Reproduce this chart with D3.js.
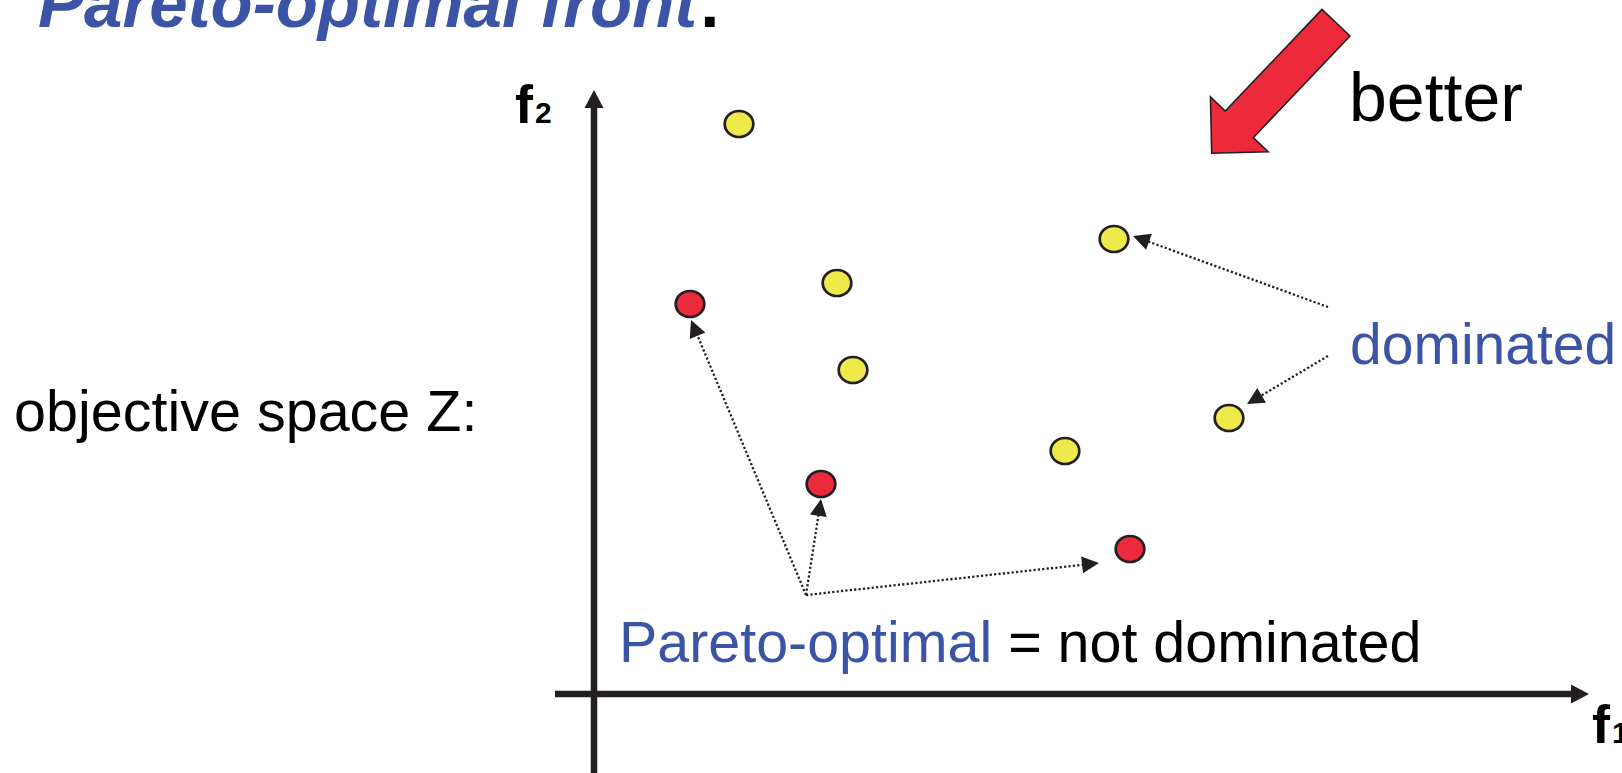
<!DOCTYPE html>
<html>
<head>
<meta charset="utf-8">
<script src="https://cdn.jsdelivr.net/npm/d3@7"></script>
<style>
  html, body { margin: 0; padding: 0; background: #fff; overflow: hidden; }
  svg { display: block; }
  text { font-family: "Liberation Sans", Arial, Helvetica, sans-serif; }
</style>
</head>
<body>
<svg id="chart" width="1622" height="773"></svg>
<script>
// Objective values (f1, f2) of the candidate solutions
const dominatedF1 = [1.45, 2.43, 2.59, 5.20, 4.71, 6.35];
const dominatedF2 = [5.70, 4.11, 3.24, 4.55, 2.43, 2.76];
const paretoF1    = [0.96, 2.27, 5.36];
const paretoF2    = [3.90, 2.10, 1.45];

// Dotted pointer arrows: [from f1, from f2, to f1, to f2]
const paretoPointers    = [[2.12, 0.99, 0.97, 3.74], [2.12, 0.99, 2.27, 1.95], [2.12, 0.99, 5.05, 1.31]];
const dominatedPointers = [[7.34, 3.87, 5.39, 4.58], [7.34, 3.38, 6.53, 2.90]];

// "better" direction arrow: tail and tip in objective space
const betterArrow = [[7.42, 6.713], [6.177, 5.407]];

// Axis extents in objective units
const f1Extent = [-0.39, 9.95];
const f2Extent = [-0.79, 6.04];

const svg = d3.select("#chart");
const INK = "#231f20";
const BLUE = "#3b54a5";

const x = d3.scaleLinear().domain([0, 10]).range([594, 1594]);
const y = d3.scaleLinear().domain([0, 6]).range([694, 94]);

// Title line, cropped at the top edge
const title = svg.append("text")
  .attr("x", 38).attr("y", 27)
  .attr("font-size", 69).attr("font-weight", "bold").attr("font-style", "italic");
title.append("tspan").attr("fill", BLUE).text("Pareto-optimal front");
title.append("tspan").attr("fill", "#000").attr("font-style", "normal").attr("dx", 3).text(".");

svg.append("text").attr("x", 14).attr("y", 431).attr("font-size", 57.5)
  .attr("fill", "#000").text("objective space Z:");

// Axes with arrowheads
function arrowHead(g, tip, dir, len, half, fill) {
  const [dx, dy] = dir; const L = Math.hypot(dx, dy);
  const ux = dx / L, uy = dy / L, px = -uy, py = ux;
  const bx = tip[0] - ux * len, by = tip[1] - uy * len;
  g.append("path")
    .attr("d", d3.line()([[tip[0], tip[1]], [bx + px * half, by + py * half], [bx - px * half, by - py * half]]) + "Z")
    .attr("fill", fill);
}

const axes = svg.append("g");
axes.append("line")
  .attr("x1", x(f1Extent[0])).attr("x2", x(f1Extent[1]) - 12)
  .attr("y1", y(0)).attr("y2", y(0))
  .attr("stroke", INK).attr("stroke-width", 6.5);
arrowHead(axes, [x(f1Extent[1]), y(0)], [1, 0], 18, 9.5, INK);
axes.append("line")
  .attr("x1", x(0)).attr("x2", x(0))
  .attr("y1", y(f2Extent[0])).attr("y2", y(f2Extent[1]) + 12)
  .attr("stroke", INK).attr("stroke-width", 6.5);
arrowHead(axes, [x(0), y(f2Extent[1])], [0, -1], 18, 9.5, INK);

// Axis labels f1 / f2
const f2Label = svg.append("text").attr("x", 515).attr("y", 123).attr("font-weight", "bold").attr("fill", "#000");
f2Label.append("tspan").attr("font-size", 54).text("f");
f2Label.append("tspan").attr("font-size", 30).attr("dx", 2).text("2");
const f1Label = svg.append("text").attr("x", 1592).attr("y", 743).attr("font-weight", "bold").attr("fill", "#000");
f1Label.append("tspan").attr("font-size", 54).text("f");
f1Label.append("tspan").attr("font-size", 30).attr("dx", 2).text("1");

// Dotted pointers
function pointer(g, d) {
  const x1 = x(d[0]), y1 = y(d[1]), x2 = x(d[2]), y2 = y(d[3]);
  const L = Math.hypot(x2 - x1, y2 - y1), headLen = 17;
  g.append("line")
    .attr("x1", x1).attr("y1", y1)
    .attr("x2", x2 - (x2 - x1) / L * (headLen - 2)).attr("y2", y2 - (y2 - y1) / L * (headLen - 2))
    .attr("stroke", INK).attr("stroke-width", 2.3).attr("stroke-dasharray", "2.2,2.2");
  arrowHead(g, [x2, y2], [x2 - x1, y2 - y1], headLen, 8.5, INK);
}
const ptrs = svg.append("g");
paretoPointers.forEach(d => pointer(ptrs, d));
dominatedPointers.forEach(d => pointer(ptrs, d));

// Solutions
const pts = svg.append("g");
pts.selectAll("ellipse.dom")
  .data(dominatedF1.map((v, i) => [v, dominatedF2[i]]))
  .join("ellipse").attr("class", "dom")
  .attr("cx", d => x(d[0])).attr("cy", d => y(d[1]))
  .attr("rx", 14.3).attr("ry", 13)
  .attr("fill", "#eeea4a").attr("stroke", INK).attr("stroke-width", 2.7);
pts.selectAll("ellipse.par")
  .data(paretoF1.map((v, i) => [v, paretoF2[i]]))
  .join("ellipse").attr("class", "par")
  .attr("cx", d => x(d[0])).attr("cy", d => y(d[1]))
  .attr("rx", 14.3).attr("ry", 13)
  .attr("fill", "#ec2a3c").attr("stroke", INK).attr("stroke-width", 2.7);

// Big "better" arrow
(function () {
  const [t0, t1] = betterArrow;
  const ax = x(t0[0]), ay = y(t0[1]), bx = x(t1[0]), by = y(t1[1]);
  const L = Math.hypot(bx - ax, by - ay);
  const ux = (bx - ax) / L, uy = (by - ay) / L, px = -uy, py = ux;
  const shaftHalf = 19.3, headHalf = 39.8, headLen = 40;
  const hx = bx - ux * headLen, hy = by - uy * headLen;
  const poly = [
    [ax + px * shaftHalf, ay + py * shaftHalf],
    [hx + px * shaftHalf, hy + py * shaftHalf],
    [hx + px * headHalf, hy + py * headHalf],
    [bx, by],
    [hx - px * headHalf, hy - py * headHalf],
    [hx - px * shaftHalf, hy - py * shaftHalf],
    [ax - px * shaftHalf, ay - py * shaftHalf]
  ];
  svg.append("path").attr("d", d3.line()(poly) + "Z")
    .attr("fill", "#ec2a3c").attr("stroke", INK).attr("stroke-width", 1.6).attr("stroke-linejoin", "miter");
})();

svg.append("text").attr("x", 1349).attr("y", 121).attr("font-size", 68).attr("fill", "#000").text("better");
svg.append("text").attr("x", 1350).attr("y", 364).attr("font-size", 57).attr("fill", BLUE).text("dominated");

const caption = svg.append("text").attr("x", 619).attr("y", 662).attr("font-size", 57.4);
caption.append("tspan").attr("fill", BLUE).text("Pareto-optimal");
caption.append("tspan").attr("fill", "#000").text(" = not dominated");
</script>
</body>
</html>
